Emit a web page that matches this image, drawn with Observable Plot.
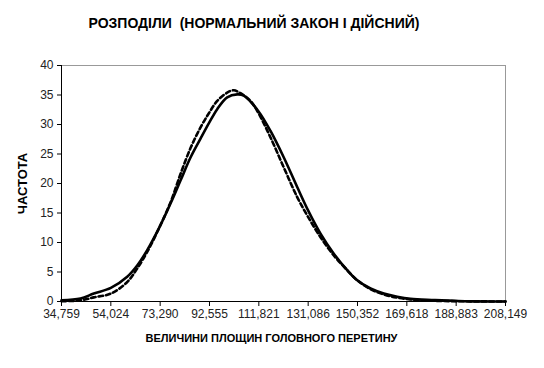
<!DOCTYPE html>
<html>
<head>
<meta charset="utf-8">
<script src="https://cdn.jsdelivr.net/npm/d3@7"></script>
<script src="https://cdn.jsdelivr.net/npm/@observablehq/plot@0.6"></script>
<style>
  body { margin: 0; background: #fff; }
  #wrap { width: 544px; height: 368px; position: relative; font-family: "Liberation Sans", Arial, sans-serif; }
  #title { position: absolute; left: 0; top: 15px; width: 508px; text-align: center; font-weight: bold; font-size: 14px; color: #000; }
  #chart { position: absolute; left: 0; top: 40px; }
</style>
</head>
<body>
<div id="wrap">
  <div id="title">РОЗПОДІЛИ&nbsp; (НОРМАЛЬНИЙ ЗАКОН І ДІЙСНИЙ)</div>
  <div id="chart"></div>
</div>
<script>
const titleText = "РОЗПОДІЛИ  (НОРМАЛЬНИЙ ЗАКОН І ДІЙСНИЙ)";
const xLabel = "ВЕЛИЧИНИ ПЛОЩИН ГОЛОВНОГО ПЕРЕТИНУ";
const yLabel = "ЧАСТОТА";

const xTickValues = [34.759, 54.024, 73.290, 92.555, 111.821, 131.086, 150.352, 169.618, 188.883, 208.149];
const xTickLabels = ["34,759", "54,024", "73,290", "92,555", "111,821", "131,086", "150,352", "169,618", "188,883", "208,149"];
const yTicks = [0, 5, 10, 15, 20, 25, 30, 35, 40];

// actual distribution (solid)
const actualX = [34.76, 42.18, 47.38, 54.02, 60.42, 64.32, 68.23, 73.03, 77.33, 81.23, 85.14, 89.05, 92.44, 95.57, 99.47, 103.38, 105.95, 111.58, 116.38, 121.58, 126.8, 131.1, 135.91, 141.1, 146.34, 150.25, 155.44, 160.63, 165.87, 171.06, 180.5, 188.6, 194.5, 208.15];
const actualY = [0.2, 0.5, 1.35, 2.3, 4.2, 6.1, 8.7, 12.6, 16.6, 20.5, 24.4, 27.6, 30.3, 32.6, 34.6, 35.1, 34.9, 32.3, 28.9, 24.4, 19.4, 15.4, 11.5, 8.1, 5.3, 3.6, 2.2, 1.35, 0.8, 0.45, 0.25, 0.1, 0.02, 0];

// normal law (dashed)
const normalX = [34.76, 42.18, 47.38, 54.02, 60.42, 64.32, 68.23, 73.03, 77.33, 81.23, 85.14, 89.05, 92.44, 95.57, 99.47, 102.05, 104.67, 108.57, 111.58, 116.38, 121.58, 126.8, 131.1, 135.91, 141.1, 146.34, 150.25, 155.44, 160.63, 165.87, 171.06, 180.5, 188.6, 208.15];
const normalY = [0.05, 0.2, 0.7, 1.35, 3.3, 5.6, 8.4, 12.6, 16.8, 21.6, 26.0, 29.5, 32.0, 34.0, 35.4, 35.8, 35.3, 34.0, 32.0, 27.8, 22.7, 17.7, 14.3, 10.9, 7.8, 5.3, 3.6, 2.1, 1.2, 0.65, 0.35, 0.12, 0.05, 0];

const actual = actualX.map((x, i) => ({x, y: actualY[i]}));
const normal = normalX.map((x, i) => ({x, y: normalY[i]}));

const font = "'Liberation Sans', Arial, sans-serif";

const chart = Plot.plot({
  width: 544,
  height: 328,
  marginLeft: 61,
  marginRight: 39,
  marginTop: 25,
  marginBottom: 67,
  style: {fontFamily: font, fontSize: "12px", color: "#222", background: "#fff"},
  x: {domain: [xTickValues[0], xTickValues[xTickValues.length - 1]]},
  y: {domain: [0, 40]},
  marks: [
    Plot.ruleY([40], {stroke: "#999", strokeWidth: 1}),
    Plot.ruleX([xTickValues[xTickValues.length - 1]], {stroke: "#999", strokeWidth: 1}),
    Plot.line(normal, {x: "x", y: "y", stroke: "#000", strokeWidth: 2.6, strokeDasharray: "4.5,3", curve: "catmull-rom"}),
    Plot.line(actual, {x: "x", y: "y", stroke: "#000", strokeWidth: 2.6, curve: "catmull-rom"}),
    Plot.ruleX([xTickValues[0]], {stroke: "#000", strokeWidth: 1}),
    Plot.ruleY([0], {stroke: "#000", strokeWidth: 1}),
    Plot.axisX({ticks: xTickValues, tickFormat: (d, i) => xTickLabels[i], tickSize: 5, tickPadding: 3, label: null, stroke: "#000"}),
    Plot.axisY({ticks: yTicks, tickSize: 4, tickPadding: 4, label: null, stroke: "#000"}),
    Plot.text([xLabel], {frameAnchor: "bottom", dx: -12, dy: 40, fontWeight: "bold", fontSize: 11, fill: "#000"}),
    Plot.text([yLabel], {frameAnchor: "left", textAnchor: "middle", rotate: -90, dx: -39, fontWeight: "bold", fontSize: 13, fill: "#000"})
  ]
});
document.getElementById("chart").appendChild(chart);
</script>
</body>
</html>
